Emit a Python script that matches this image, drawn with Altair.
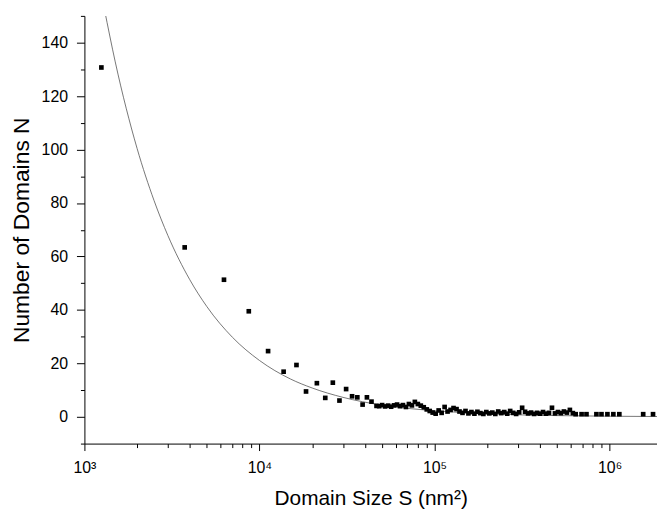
import altair as alt
import pandas as pd

# ---- measured data (domain size S in nm^2, number of domains N) ----
size_S = [1250, 3740, 6270, 8690, 11200, 13740, 16270, 18450, 21280, 23760,
          26250, 28640, 31260, 33810, 36230, 38830, 41100, 43650, 46630,
          48300, 50200, 52200, 54300, 56500, 58700, 61100, 63500, 66000, 68700,
          71400, 74300, 77200, 80300, 83500, 86800, 90300, 93900, 97600, 101500,
          105600, 109800, 114200, 118700, 123500, 128400, 133600, 138900, 144500,
          150300, 156200, 162500, 169000, 175800, 182800, 190100, 197700, 205600,
          213800, 222400, 231200, 240500, 250200, 260200, 270500, 281400, 292600,
          304400, 316600, 329200, 342400, 356100, 370400, 385200, 400600, 416700,
          433300, 450700, 468800, 487600, 507000, 527300, 548500, 570500, 593300,
          617000, 640000, 692000, 738000, 841000, 899000, 972000, 1051000,
          1137000, 1556000, 1771000]
count_N = [130.7, 63.4, 51.3, 39.5, 24.6, 16.9, 19.4, 9.5, 12.6, 7.1,
           12.8, 6.1, 10.4, 7.7, 7.3, 4.6, 7.3, 5.7, 4.1,
           4.0, 4.4, 3.9, 4.2, 3.8, 4.3, 4.6, 4.0, 4.4, 3.7,
           4.8, 4.3, 5.6, 4.8, 4.2, 3.6, 2.8, 2.2, 1.6, 1.2,
           2.4, 1.5, 3.7, 2.0, 2.6, 3.3, 2.9, 2.0, 1.5,
           2.2, 1.3, 1.8, 1.2, 1.9, 1.4, 1.1, 1.8, 1.3,
           1.6, 1.1, 2.0, 1.4, 1.8, 1.2, 2.2, 1.5, 1.1,
           1.7, 3.4, 1.9, 1.3, 1.6, 1.1, 1.5, 1.2, 1.8,
           1.2, 1.5, 3.4, 1.3, 1.8, 1.4, 2.0, 1.6, 2.6,
           1.4, 1.0, 1.0, 1.0, 1.0, 1.0, 1.0, 1.0,
           1.0, 1.0, 1.0]

# ---- fitted curve ----
fit_S = [1300, 1500, 2000, 2500, 3000, 4000, 5000, 7000, 10000, 15000, 20000,
         30000, 50000, 100000, 200000, 500000, 1000000, 1866000]
fit_N = [152.6, 132.8, 100.4, 80.9, 67.8, 51.3, 41.3, 29.8, 21.1, 14.2, 10.8,
         7.3, 4.4, 2.3, 1.15, 0.47, 0.24, 0.13]

# ---- tick values ----
decades = [1000, 10000, 100000, 1000000]
mults = [1, 2, 3, 4, 5, 6, 7, 8, 9]
x_tick_values = [d * m for d in decades for m in mults if d * m <= 1866000]
y_tick_values = list(range(-10, 151, 10))

pts = pd.DataFrame({"S": size_S, "N": count_N})
fit = pd.DataFrame({"S": fit_S, "N": fit_N})

is_decade = "abs(log(datum.value)/LN10 - round(log(datum.value)/LN10)) < 0.001"
exp_e = "round(log(datum.value)/LN10)"
x_label_expr = (
    f"({is_decade}) ? ({exp_e} == 3 ? '10³' : {exp_e} == 4 ? '10⁴' : "
    f"{exp_e} == 5 ? '10⁵' : '10⁶') : ''"
)

x_axis = alt.Axis(
    title="Domain Size S (nm²)",
    values=x_tick_values,
    labelExpr=x_label_expr,
    tickSize={"condition": {"test": is_decade, "value": 7}, "value": 4},
    labelPadding=9,
    titlePadding=12,
    titleFontSize=21,
    grid=False,
)
y_axis = alt.Axis(
    title="Number of Domains N",
    values=y_tick_values,
    labelExpr="datum.value % 20 == 0 ? datum.label : ''",
    tickSize={"condition": {"test": "datum.value % 20 == 0", "value": 8}, "value": 4},
    labelPadding=9,
    titlePadding=8,
    titleFontSize=23,
    grid=False,
)

x_scale = alt.Scale(type="log", domain=[1000, 1866000])
y_scale = alt.Scale(domain=[-10, 150], nice=False, zero=False)

line = alt.Chart(fit).mark_line(
    color="#555555", strokeWidth=0.8, clip=True, interpolate="monotone"
).encode(
    x=alt.X("S:Q", scale=x_scale, axis=x_axis),
    y=alt.Y("N:Q", scale=y_scale, axis=y_axis),
)

dots = alt.Chart(pts).mark_square(
    color="black", size=22, opacity=1, filled=True
).encode(
    x=alt.X("S:Q", scale=x_scale, axis=x_axis),
    y=alt.Y("N:Q", scale=y_scale, axis=y_axis),
)

chart = alt.layer(line, dots).properties(
    width=577,
    height=431,
    padding={"left": 77, "top": 6, "right": 0, "bottom": 70},
    autosize=alt.AutoSizeParams(type="none"),
    background="white",
).configure_view(stroke=None).configure_axis(
    domainColor="black",
    tickColor="black",
    labelColor="black",
    titleColor="black",
    labelFont="Liberation Sans",
    titleFont="Liberation Sans",
    labelFontSize=16,
    titleFontWeight="normal",
    labelFlush=False,
    labelOverlap=False,
)

chart.save("out.html", embed_options={"renderer": "svg", "actions": False})
